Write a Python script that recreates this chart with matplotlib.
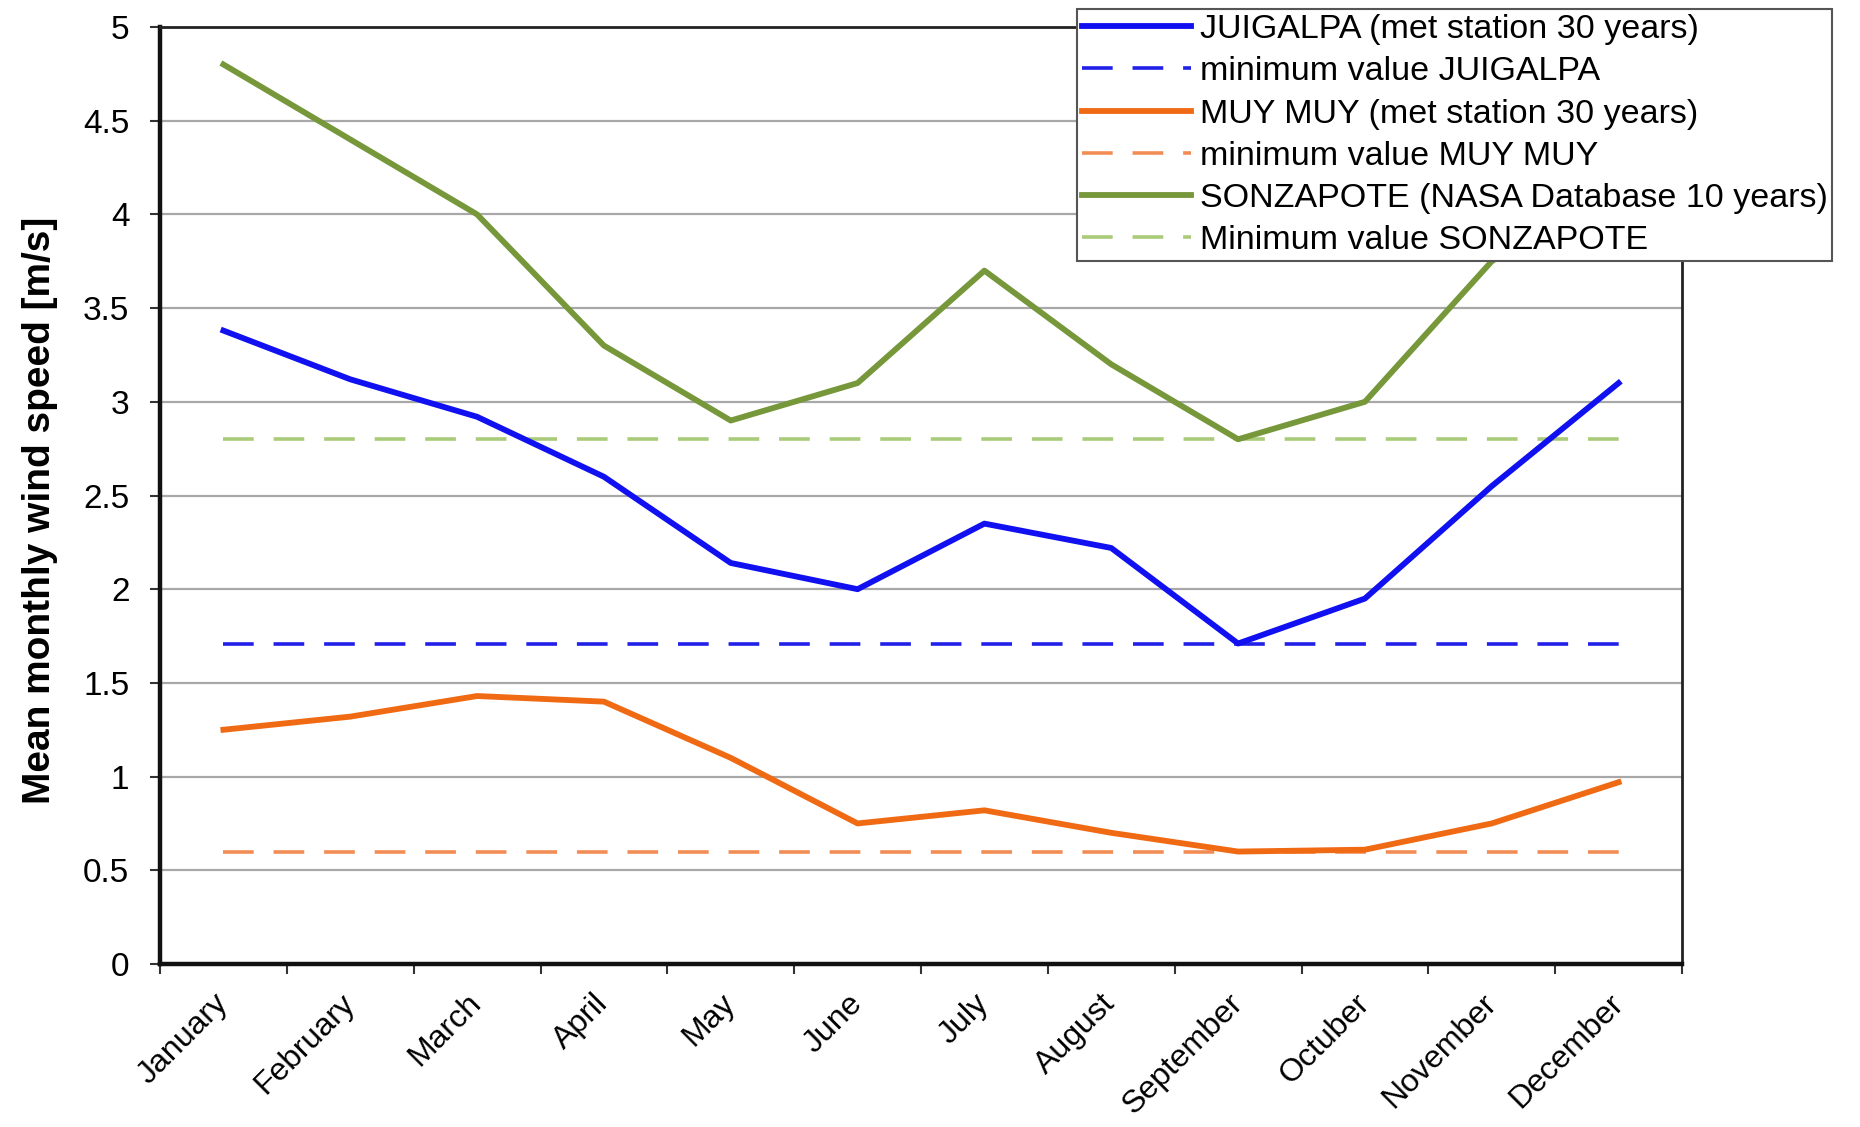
import matplotlib
matplotlib.use("Agg")
import matplotlib.pyplot as plt
from matplotlib.ticker import FixedLocator
import numpy as np

plt.rcParams['font.family'] = ['Liberation Sans', 'DejaVu Sans']

months = ["January", "February", "March", "April", "May", "June", "July",
          "August", "September", "Octuber", "November", "December"]
juigalpa = [3.38, 3.12, 2.92, 2.60, 2.14, 2.00, 2.35, 2.22, 1.71, 1.95, 2.55, 3.10]
juigalpa_min = 1.71
muymuy = [1.25, 1.32, 1.43, 1.40, 1.10, 0.75, 0.82, 0.70, 0.60, 0.61, 0.75, 0.97]
muymuy_min = 0.60
sonzapote = [4.80, 4.40, 4.00, 3.30, 2.90, 3.10, 3.70, 3.20, 2.80, 3.00, 3.75, 4.20]
sonzapote_min = 2.80
yticks = [0, 0.5, 1, 1.5, 2, 2.5, 3, 3.5, 4, 4.5, 5]

labels = ["JUIGALPA (met station 30 years)", "minimum value JUIGALPA",
          "MUY MUY (met station 30 years)", "minimum value MUY MUY",
          "SONZAPOTE (NASA Database 10 years)", "Minimum value SONZAPOTE"]

fig = plt.figure(figsize=(18.6, 11.27), dpi=100)
ax = fig.add_axes([160/1860, 1-964/1127, (1682-160)/1860, (964-27)/1127])

x = np.arange(len(months))
dash = (8.5, 5.5)
lw_s = 4.2
lw_d = 2.6
h = []
h += ax.plot(x, juigalpa, color='#1010F0', lw=lw_s, solid_joinstyle='round', zorder=4)
h += ax.plot(x, [juigalpa_min]*len(x), color='#2020E8', lw=lw_d, dashes=dash, zorder=3)
h += ax.plot(x, muymuy, color='#F06A14', lw=lw_s, solid_joinstyle='round', zorder=4)
h += ax.plot(x, [muymuy_min]*len(x), color='#F28C55', lw=lw_d, dashes=dash, zorder=3)
h += ax.plot(x, sonzapote, color='#76973A', lw=lw_s, solid_joinstyle='round', zorder=4)
h += ax.plot(x, [sonzapote_min]*len(x), color='#AACB7A', lw=lw_d, dashes=dash, zorder=3)

ax.set_xlim(-0.5, len(months)-0.5)
ax.set_ylim(0, 5)
ax.set_yticks(yticks)
ax.set_yticklabels([f"{v:g}" for v in yticks], fontsize=24)
ax.grid(axis='y', color='#A8A8A8', lw=1.6)
ax.set_axisbelow(True)

ax.set_xticks(x)
ax.set_xticklabels(months, rotation=45, ha='right', va='center',
                   rotation_mode='anchor', fontsize=23)
ax.tick_params(axis='x', which='major', length=0, pad=25)
ax.xaxis.set_minor_locator(FixedLocator(np.arange(-0.5, len(months), 1.0)))
ax.tick_params(axis='x', which='minor', length=7, width=1.5, color='#333333')
ax.tick_params(axis='y', which='major', length=7, width=1.5, color='#333333', pad=15)

for side in ['left', 'bottom']:
    ax.spines[side].set_linewidth(3.2)
    ax.spines[side].set_color('#111111')
for side in ['right', 'top']:
    ax.spines[side].set_linewidth(2)
    ax.spines[side].set_color('#222222')

ax.set_ylabel("Mean monthly wind speed [m/s]", fontsize=28, fontweight='bold', labelpad=18)
ax.yaxis.label.set_y(0.484)

leg = fig.legend(h, labels, loc='upper left', bbox_to_anchor=(1077/1860, 1-9/1127),
                 fontsize=24.5, frameon=True, fancybox=False, edgecolor='#555555',
                 framealpha=1, facecolor='white',
                 handlelength=3.2, handletextpad=0.25, labelspacing=0.33,
                 borderpad=0.15, borderaxespad=0)
leg.get_frame().set_linewidth(1.5)
leg.set_zorder(10)

fig.savefig("out.png", dpi=100, facecolor='white')
